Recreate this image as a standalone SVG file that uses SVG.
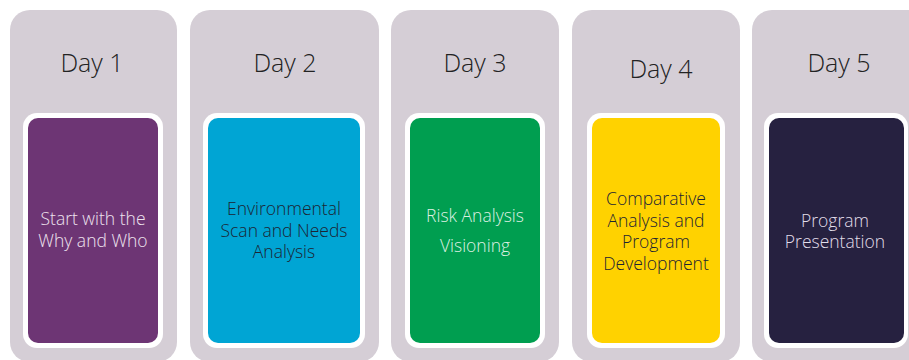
<svg xmlns="http://www.w3.org/2000/svg" width="909" height="360" viewBox="0 0 909 360">
<style>
.card{fill:#D5CED6}
.frame{fill:#FFFFFF}
.day{font-family:"Open Sans","Liberation Sans",sans-serif;font-weight:300;font-size:25px;fill:#222222;text-anchor:middle}
.lbl{font-family:"Open Sans","Liberation Sans",sans-serif;font-weight:300;font-size:17.5px;text-anchor:middle}
.light{fill:#EDE3EF}
.dark{fill:#1C2433}
</style>
<rect width="909" height="360" fill="#FFFFFF"/>
<g id="day1">
<rect class="card" x="10" y="10" width="167" height="352" rx="20"/>
<text class="day" x="92" y="72">Day 1</text>
<rect class="frame" x="23" y="113" width="140" height="235" rx="14"/>
<rect x="28" y="118" width="130" height="225" rx="10" fill="#6D3574"/>
<text class="lbl light" x="93"><tspan x="93" y="225">Start with the</tspan><tspan x="93" y="247">Why and Who</tspan></text>
</g>
<g id="day2">
<rect class="card" x="190" y="10" width="189" height="352" rx="20"/>
<text class="day" x="285" y="72">Day 2</text>
<rect class="frame" x="203" y="113" width="162" height="235" rx="14"/>
<rect x="208" y="118" width="152" height="225" rx="10" fill="#00A5D4"/>
<text class="lbl dark" x="284"><tspan x="284" y="215">Environmental</tspan><tspan x="284" y="237">Scan and Needs</tspan><tspan x="284" y="258">Analysis</tspan></text>
</g>
<g id="day3">
<rect class="card" x="391" y="10" width="168" height="352" rx="20"/>
<text class="day" x="475" y="72">Day 3</text>
<rect class="frame" x="405" y="113" width="140" height="235" rx="14"/>
<rect x="410" y="118" width="130" height="225" rx="10" fill="#009E50"/>
<text class="lbl" fill="#DDF0E2" x="475"><tspan x="475" y="222">Risk Analysis</tspan><tspan x="475" y="252">Visioning</tspan></text>
</g>
<g id="day4">
<rect class="card" x="572" y="10" width="168" height="352" rx="20"/>
<text class="day" x="661" y="78">Day 4</text>
<rect class="frame" x="587" y="113" width="138" height="235" rx="14"/>
<rect x="592" y="118" width="128" height="225" rx="10" fill="#FFD200"/>
<text class="lbl dark" x="656"><tspan x="656" y="205">Comparative</tspan><tspan x="656" y="227">Analysis and</tspan><tspan x="656" y="248">Program</tspan><tspan x="656" y="270">Development</tspan></text>
</g>
<g id="day5">
<rect class="card" x="752" y="10" width="180" height="352" rx="20"/>
<text class="day" x="839" y="72">Day 5</text>
<rect class="frame" x="764" y="113" width="144" height="235" rx="14"/>
<rect x="769" y="118" width="135" height="225" rx="10" fill="#262140"/>
<text class="lbl" fill="#E2DEEA" x="835"><tspan x="835" y="227">Program</tspan><tspan x="835" y="248">Presentation</tspan></text>
</g>
<g id="connectors"/>
</svg>
